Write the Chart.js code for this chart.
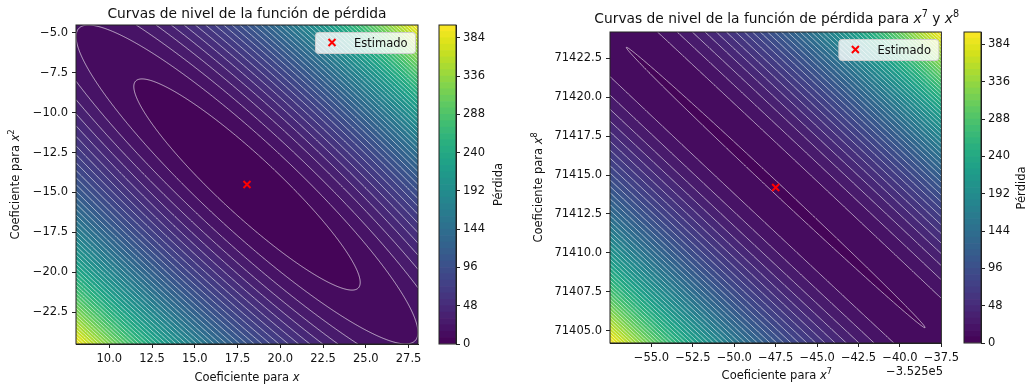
<!DOCTYPE html>
<html>
<head>
<meta charset="utf-8">
<script src="https://cdn.jsdelivr.net/npm/chart.js@4.4.1/dist/chart.umd.min.js"></script>
<style>
html, body { margin: 0; padding: 0; background: #fff; }
#wrap { position: relative; width: 1029px; height: 387px; overflow: hidden; }
canvas { position: absolute; top: 0; }
</style>
</head>
<body>
<div id="wrap">
  <canvas id="main1" width="430" height="387" style="left:0px"></canvas>
  <canvas id="cb1" width="80" height="387" style="left:430px"></canvas>
  <canvas id="main2" width="453" height="387" style="left:510px"></canvas>
  <canvas id="cb2" width="74" height="387" style="left:955px"></canvas>
</div>
<script>
// ---- data ----
// left panel: coefficients for x and x^2
const est1 = [18.05, -14.5];
const span1 = 10;
const lossMin1 = 1.75;
const curv1 = [1.97, 0.074];        // across the valley, along the valley
const xTicks1 = [10, 12.5, 15, 17.5, 20, 22.5, 25, 27.5];
const yTicks1 = [-22.5, -20, -17.5, -15, -12.5, -10, -7.5, -5];

// right panel: coefficients for x^7 and x^8 (x shown relative to an offset)
const xOffset2 = -3.525e5;
const est2 = [-47.5, 71414.2];
const span2 = 10;
const lossMin2 = 7.8;
const curv2 = [1.95, 0.00123];
const xTicks2 = [-55, -52.5, -50, -47.5, -45, -42.5, -40, -37.5];
const yTicks2 = [71405, 71407.5, 71410, 71412.5, 71415, 71417.5, 71420, 71422.5];

// contour levels / colorbar
const levelStep = 8;
const levelMax = 400;
const cbTicks = [0, 48, 96, 144, 192, 240, 288, 336, 384];
const pointLabel = 'Estimado';

const levels = [];
for (let v = 0; v <= levelMax; v += levelStep) levels.push(v);

Chart.defaults.font.family = "'DejaVu Sans'";
Chart.defaults.font.size = 11.5;
Chart.defaults.color = '#111';

const viridisStops = ['#440154','#48186a','#472d7b','#424086','#3b528b','#33638d','#2c728e','#26828e',
  '#21918c','#1fa088','#28ae80','#3fbc73','#5ec962','#84d44b','#addc30','#d8e219','#fde725'];
const stopRGB = viridisStops.map(h => [1, 3, 5].map(i => parseInt(h.substr(i, 2), 16)));
function viridis(t) {
  t = Math.max(0, Math.min(1, t));
  const f = t * (stopRGB.length - 1);
  const i = Math.min(stopRGB.length - 2, Math.floor(f));
  const u = f - i;
  return stopRGB[i].map((c, k) => Math.round(c + (stopRGB[i + 1][k] - c) * u));
}
const bandRGB = levels.slice(0, -1).map((v, k) => viridis(((v + levels[k + 1]) / 2 - levels[0]) / (levelMax - levels[0])));
const bandCss = bandRGB.map(c => `rgb(${c[0]},${c[1]},${c[2]})`);

function loss(p, xv, yv) {
  const dx = xv - p.est[0], dy = yv - p.est[1];
  const s = (dx + dy) / Math.SQRT2, r = (dx - dy) / Math.SQRT2;
  return p.lossMin + p.curv[0] * s * s + p.curv[1] * r * r;
}

const fmt1 = v => (v < 0 ? '\u2212' : '') + Math.abs(v).toFixed(1);

function richText(ctx, it) {
  const size = it.size || 11.5;
  const font = (p, s) => (p.it ? 'italic ' : '') + s + "px 'DejaVu Sans'";
  let total = 0;
  const widths = it.parts.map(p => {
    ctx.font = font(p, p.sup ? size * 0.7 : size);
    const w = ctx.measureText(p.t).width;
    total += w;
    return w;
  });
  ctx.save();
  ctx.fillStyle = '#111';
  ctx.textBaseline = 'alphabetic';
  ctx.textAlign = 'left';
  ctx.translate(it.x, it.y);
  if (it.rot) ctx.rotate(it.rot * Math.PI / 180);
  let cx = it.align === 'right' ? -total : -total / 2;
  it.parts.forEach((p, i) => {
    ctx.font = font(p, p.sup ? size * 0.7 : size);
    ctx.fillText(p.t, cx, p.sup ? -size * 0.42 : 0);
    cx += widths[i];
  });
  ctx.restore();
}

function textsPlugin(items) {
  return { id: 'texts', afterDraw(chart) { items.forEach(it => richText(chart.ctx, it)); } };
}

const framePlugin = {
  id: 'frame',
  afterDatasetsDraw(chart) {
    const { ctx, chartArea: a } = chart;
    ctx.save();
    ctx.strokeStyle = '#222';
    ctx.lineWidth = 1;
    ctx.strokeRect(a.left, a.top, a.right - a.left, a.bottom - a.top);
    ctx.restore();
  }
};

function contourPlugin(p) {
  return {
    id: 'contour',
    beforeDatasetsDraw(chart) {
      const { ctx, chartArea: a, scales: { x, y } } = chart;
      const x0 = Math.round(a.left), y0 = Math.round(a.top);
      const w = Math.round(a.right) - x0, h = Math.round(a.bottom) - y0;
      const off = document.createElement('canvas');
      off.width = w; off.height = h;
      const octx = off.getContext('2d');
      const img = octx.createImageData(w, h);
      const nb = bandRGB.length;
      for (let j = 0; j < h; j++) {
        const yv = y.getValueForPixel(y0 + j + 0.5);
        for (let i = 0; i < w; i++) {
          const v = loss(p, x.getValueForPixel(x0 + i + 0.5), yv);
          const k = Math.max(0, Math.min(nb - 1, Math.floor((v - levels[0]) / levelStep)));
          const c = bandRGB[k], o = (j * w + i) * 4;
          img.data[o] = c[0]; img.data[o + 1] = c[1]; img.data[o + 2] = c[2]; img.data[o + 3] = 255;
        }
      }
      octx.putImageData(img, 0, 0);
      ctx.drawImage(off, x0, y0);

      // contour lines (marching squares on a half-pixel grid)
      const sub = 2;
      const W = w * sub + 1, H = h * sub + 1;
      const z = new Float64Array(W * H);
      for (let j = 0; j < H; j++) {
        const yv = y.getValueForPixel(y0 + j / sub);
        for (let i = 0; i < W; i++) z[j * W + i] = loss(p, x.getValueForPixel(x0 + i / sub), yv);
      }
      ctx.save();
      ctx.beginPath();
      ctx.rect(x0, y0, w, h);
      ctx.clip();
      ctx.beginPath();
      for (let j = 0; j < H - 1; j++) {
        for (let i = 0; i < W - 1; i++) {
          const v0 = z[j * W + i], v1 = z[j * W + i + 1], v2 = z[(j + 1) * W + i + 1], v3 = z[(j + 1) * W + i];
          const lo = Math.min(v0, v1, v2, v3), hi = Math.max(v0, v1, v2, v3);
          for (let k = Math.max(0, Math.ceil((lo - levels[0]) / levelStep)); k < levels.length && levels[k] <= hi; k++) {
            const t = levels[k];
            const pts = [];
            if ((v0 < t) !== (v1 < t)) pts.push(i + (t - v0) / (v1 - v0), j);
            if ((v1 < t) !== (v2 < t)) pts.push(i + 1, j + (t - v1) / (v2 - v1));
            if ((v3 < t) !== (v2 < t)) pts.push(i + (t - v3) / (v2 - v3), j + 1);
            if ((v0 < t) !== (v3 < t)) pts.push(i, j + (t - v0) / (v3 - v0));
            for (let q = 0; q + 3 < pts.length; q += 4) {
              ctx.moveTo(x0 + pts[q] / sub, y0 + pts[q + 1] / sub);
              ctx.lineTo(x0 + pts[q + 2] / sub, y0 + pts[q + 3] / sub);
            }
          }
        }
      }
      ctx.strokeStyle = 'rgba(255,255,255,0.72)';
      ctx.lineWidth = 0.9;
      ctx.stroke();
      ctx.restore();
    }
  };
}

const legendPlugin = {
  id: 'estLegend',
  afterDraw(chart) {
    const { ctx, chartArea: a } = chart;
    const bw = 100, bh = 21;
    const bx = a.right - 3 - bw, by = a.top + 7;
    ctx.save();
    ctx.beginPath();
    ctx.roundRect(bx + 0.5, by + 0.5, bw, bh, 3);
    ctx.fillStyle = 'rgba(255,255,255,0.8)';
    ctx.fill();
    ctx.strokeStyle = '#cccccc';
    ctx.lineWidth = 1;
    ctx.stroke();
    const mx = bx + 17, my = by + 10.5, r = 3.5;
    ctx.beginPath();
    ctx.moveTo(mx - r, my - r); ctx.lineTo(mx + r, my + r);
    ctx.moveTo(mx - r, my + r); ctx.lineTo(mx + r, my - r);
    ctx.strokeStyle = '#ff0000';
    ctx.lineWidth = 2;
    ctx.stroke();
    ctx.fillStyle = '#111';
    ctx.font = "11.5px 'DejaVu Sans'";
    ctx.textBaseline = 'alphabetic';
    ctx.fillText(chart.data.datasets[0].label, bx + 39, by + 14.5);
    ctx.restore();
  }
};

function axisOpts(ticks, range, fitKey, fitVal) {
  return {
    type: 'linear',
    min: range[0],
    max: range[1],
    afterBuildTicks: s => { s.ticks = ticks.map(v => ({ value: v })); },
    afterFit: s => { s[fitKey] = fitVal; },
    ticks: { callback: v => fmt1(v), padding: 4, autoSkip: false, maxRotation: 0, color: '#111' },
    grid: { drawOnChartArea: false, drawTicks: true, tickLength: 4, color: '#222' },
    border: { display: true, color: '#222' }
  };
}

function mainChart(id, p) {
  return new Chart(document.getElementById(id), {
    type: 'scatter',
    data: {
      datasets: [{
        label: pointLabel,
        data: [{ x: p.est[0], y: p.est[1] }],
        pointStyle: 'crossRot',
        pointRadius: 5,
        borderColor: '#ff0000',
        backgroundColor: '#ff0000',
        borderWidth: 2
      }]
    },
    options: {
      responsive: false,
      animation: false,
      events: [],
      layout: { padding: p.pad },
      plugins: { legend: { display: false }, tooltip: { enabled: false } },
      scales: {
        x: axisOpts(p.xTicks, [p.est[0] - p.span, p.est[0] + p.span], 'height', p.xAxisH),
        y: axisOpts(p.yTicks, [p.est[1] - p.span, p.est[1] + p.span], 'width', p.yAxisW)
      }
    },
    plugins: [contourPlugin(p), framePlugin, legendPlugin, textsPlugin(p.texts)]
  });
}

function colorbar(id, pad, yW, texts) {
  const datasets = bandCss.map((c, k) => ({
    data: [[levels[k], levels[k + 1]]],
    backgroundColor: c,
    borderWidth: 0,
    barPercentage: 1,
    categoryPercentage: 1
  }));
  return new Chart(document.getElementById(id), {
    type: 'bar',
    data: { labels: [''], datasets },
    options: {
      responsive: false,
      animation: false,
      events: [],
      layout: { padding: pad },
      plugins: { legend: { display: false }, tooltip: { enabled: false } },
      scales: {
        x: { display: false, stacked: true },
        y: {
          position: 'right',
          min: 0,
          max: levelMax,
          stacked: false,
          afterBuildTicks: s => { s.ticks = cbTicks.map(v => ({ value: v })); },
          afterFit: s => { s.width = yW; },
          ticks: { callback: v => String(v), padding: 3, color: '#111' },
          grid: { drawOnChartArea: false, tickLength: 4, color: '#222' },
          border: { display: true, color: '#222' }
        }
      }
    },
    plugins: [framePlugin, textsPlugin(texts)]
  });
}

const offsetText = '\u2212' + (Math.abs(xOffset2) / 1e5).toFixed(3) + 'e5';

mainChart('main1', {
  est: est1, span: span1, lossMin: lossMin1, curv: curv1,
  xTicks: xTicks1, yTicks: yTicks1,
  pad: { left: 0, top: 25, right: 12, bottom: 0 }, yAxisW: 76, xAxisH: 43,
  texts: [
    { parts: [{ t: 'Curvas de nivel de la función de pérdida' }], x: 247, y: 17.5, size: 13.8 },
    { parts: [{ t: 'Coeficiente para ' }, { t: 'x', it: 1 }], x: 247, y: 381 },
    { parts: [{ t: 'Coeficiente para ' }, { t: 'x', it: 1 }, { t: '2', sup: 1 }], x: 18.5, y: 184.5, rot: -90 }
  ]
});

mainChart('main2', {
  est: est2, span: span2, lossMin: lossMin2, curv: curv2,
  xTicks: xTicks2, yTicks: yTicks2,
  pad: { left: 0, top: 32, right: 20, bottom: 0 }, yAxisW: 100, xAxisH: 44,
  texts: [
    { parts: [{ t: 'Curvas de nivel de la función de pérdida para ' }, { t: 'x', it: 1 }, { t: '7', sup: 1 },
              { t: ' y ' }, { t: 'x', it: 1 }, { t: '8', sup: 1 }], x: 266.7, y: 23, size: 13.8 },
    { parts: [{ t: 'Coeficiente para ' }, { t: 'x', it: 1 }, { t: '7', sup: 1 }], x: 266.7, y: 378.5 },
    { parts: [{ t: offsetText }], x: 433, y: 375, align: 'right' },
    { parts: [{ t: 'Coeficiente para ' }, { t: 'x', it: 1 }, { t: '8', sup: 1 }], x: 32, y: 187.5, rot: -90 }
  ]
});

colorbar('cb1', { left: 9, top: 25, right: 0, bottom: 43 }, 54,
  [{ parts: [{ t: 'Pérdida' }], x: 72, y: 184.5, rot: -90 }]);
colorbar('cb2', { left: 9, top: 32, right: 0, bottom: 44 }, 48,
  [{ parts: [{ t: 'Pérdida' }], x: 70, y: 188, rot: -90 }]);
</script>
</body>
</html>
